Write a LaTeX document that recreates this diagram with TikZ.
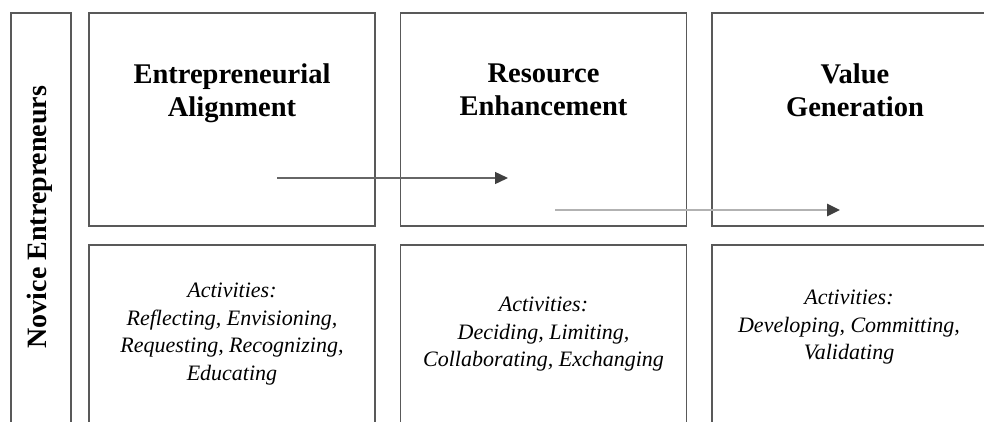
\documentclass[tikz,border=0pt]{standalone}
\usepackage{fontspec}
\setmainfont{Liberation Serif}
\usetikzlibrary{arrows.meta, positioning}

\begin{document}
\begin{tikzpicture}[
  x=1pt, y=-1pt,
  node distance=19pt and 25.5pt,
  frame/.style={draw=black!65, line width=1.6pt, outer sep=0pt, inner sep=0pt},
  phase/.style={frame, minimum width=286pt, minimum height=213pt},
  acts/.style={frame, minimum width=286pt, minimum height=220pt},
  title/.style={anchor=north, align=center, inner sep=0pt, font=\fontsize{28.5}{33}\selectfont\bfseries},
  actlist/.style={anchor=north, align=center, inner sep=0pt, font=\fontsize{22}{27.5}\selectfont\itshape},
  flow/.style={draw=black!60, line width=1.4pt, -{Triangle[length=13pt, width=12pt, color=black!75]}}
]
\path[use as bounding box, clip] (0,0) rectangle (984,421);

% actor column on the left
\node[frame, anchor=north west, minimum width=60pt, minimum height=440pt] (actor) at (11,13) {};
\node[rotate=90, font=\fontsize{28}{33}\selectfont\bfseries] (actorname) at (40,217) {Novice Entrepreneurs};

% the three phases
\node[phase, anchor=north west] (align) at (89,13) {};
\node[phase, right=of align] (enhance) {};
\node[phase, right=of enhance] (value) {};

\node[acts, below=of align] (alignacts) {};
\node[acts, below=of enhance] (enhanceacts) {};
\node[acts, below=of value] (valueacts) {};

\node[title] (aligntitle) at ([yshift=-51pt]align.north) {Entrepreneurial\\Alignment};
\node[title] (enhancetitle) at ([yshift=-51pt]enhance.north) {Resource\\Enhancement};
\node[title] (valuetitle) at ([yshift=-51pt]value.north) {Value\\Generation};

\node[actlist] (alignlist) at ([yshift=-38pt]alignacts.north) {Activities:\\Reflecting, Envisioning,\\Requesting, Recognizing,\\Educating};
\node[actlist] (enhancelist) at ([yshift=-52pt]enhanceacts.north) {Activities:\\Deciding, Limiting,\\Collaborating, Exchanging};
\node[actlist] (valuelist) at ([xshift=-6pt, yshift=-45pt]valueacts.north) {Activities:\\Developing, Committing,\\Validating};

% progression arrows
\coordinate (p1) at (277,178);
\coordinate (p2) at (508,178);
\coordinate (p3) at (555,210);
\coordinate (p4) at (840,210);
\draw[flow] (p1) -- (p2);
\draw[flow, draw=black!30, line width=2.6pt] (p3) -- (p4);
\end{tikzpicture}
\end{document}
